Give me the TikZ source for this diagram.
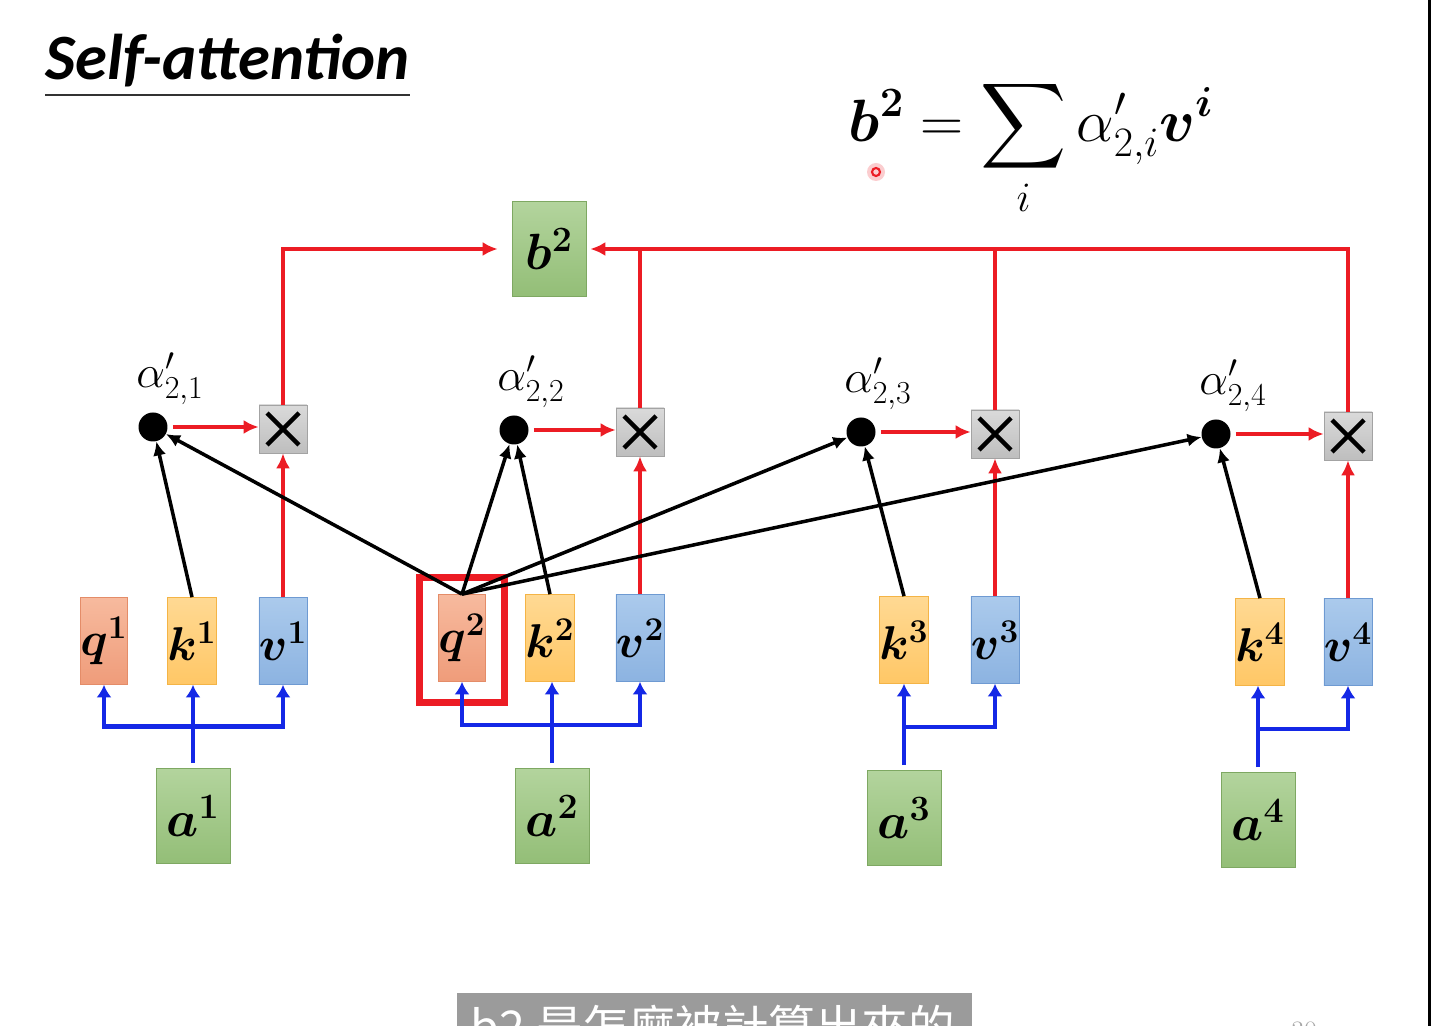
\documentclass[tikz,border=0pt]{standalone}
\usepackage{fix-cm}
\usepackage{amsmath,amssymb,bm}
\usepackage{fontspec}
\newfontfamily\slidefont{Carlito}
\newfontfamily\cjkfont{Noto Sans CJK TC}
\usepackage{xcolor}
\usetikzlibrary{arrows.meta,calc,positioning}
\definecolor{attnred}{HTML}{EC1C24}
\definecolor{attnblue}{HTML}{1428E6}
\definecolor{qtop}{HTML}{F7BA9E}
\definecolor{qbot}{HTML}{EF9C7A}
\definecolor{qline}{HTML}{E48C68}
\definecolor{ktop}{HTML}{FFD993}
\definecolor{kbot}{HTML}{FFC766}
\definecolor{kline}{HTML}{F4B446}
\definecolor{vtop}{HTML}{ABCAEC}
\definecolor{vbot}{HTML}{8CB3E1}
\definecolor{vline}{HTML}{6E9AD2}
\definecolor{gtop}{HTML}{B3D49D}
\definecolor{gbot}{HTML}{93BE77}
\definecolor{gline}{HTML}{7EA862}
\definecolor{mtop}{HTML}{DADADA}
\definecolor{mbot}{HTML}{BEBEBE}
\definecolor{mline}{HTML}{A3A3A3}
\definecolor{capgrey}{HTML}{9B9B9B}

\begin{document}
\begin{tikzpicture}[
    x=0.02cm,y=-0.02cm,
    vecbox/.style={draw,minimum width=0.94cm,minimum height=1.74cm,
      inner sep=0pt,font=\fontsize{27}{32}\selectfont},
    qbox/.style={vecbox,top color=qtop,bottom color=qbot,draw=qline},
    kbox/.style={vecbox,top color=ktop,bottom color=kbot,draw=kline},
    vbox/.style={vecbox,top color=vtop,bottom color=vbot,draw=vline},
    greenbox/.style={draw=gline,top color=gtop,bottom color=gbot,
      minimum width=1.48cm,minimum height=1.9cm,inner sep=0pt,
      font=\fontsize{29}{34}\selectfont},
    mulbox/.style={draw=mline,top color=mtop,bottom color=mbot,
      minimum size=0.96cm,inner sep=0pt,
      path picture={
        \draw[black,line width=2.5pt]
          ([shift={(-0.32cm,-0.32cm)}]path picture bounding box.center)
          -- ([shift={(0.32cm,0.32cm)}]path picture bounding box.center);
        \draw[black,line width=2.5pt]
          ([shift={(-0.32cm,0.32cm)}]path picture bounding box.center)
          -- ([shift={(0.32cm,-0.32cm)}]path picture bounding box.center);}},
    scoredot/.style={circle,fill=black,minimum size=0.58cm,inner sep=0pt},
    alphalabel/.style={font=\fontsize{26}{30}\selectfont,inner sep=0pt},
    redline/.style={attnred,line width=2.1pt},
    redarrow/.style={redline,-{Latex[length=3mm,width=2.8mm]}},
    bluearrow/.style={attnblue,line width=2.3pt,
      -{Latex[length=2.5mm,width=3mm]}},
    blackarrow/.style={black,line width=2pt,
      -{Latex[length=2.8mm,width=2.6mm]}}
  ]
    \useasboundingbox (0,0) rectangle (1431,1026);
    \clip (0,0) rectangle (1431,1026);
    \fill[white] (0,0) rectangle (1431,1026);
    \fill[black] (1428,0) rectangle (1431,1026);

    % title and formula
    \node[anchor=base west,inner sep=0pt,
      font=\slidefont\bfseries\itshape\fontsize{36.8}{40}\selectfont]
      (title) at (45,80) {Self-attention};
    \draw[line width=1.2pt,black!80] ([yshift=-0.3cm]title.base west)
      -- ([yshift=-0.3cm]title.base east);
    \node[font=\fontsize{34}{38}\selectfont] (sumeq) at (1031,148)
      {$\displaystyle \bm{b}^{\bm{2}} = \sum_{i} \alpha'_{2,i}\bm{v}^{\bm{i}}$};
    \fill[attnred!22] (876,172) circle (0.18cm);
    \draw[attnred,line width=1.2pt] (876,172) circle (0.08cm);

    % inputs and q k v
    \foreach \i/\ax/\ay in {1/193/816,2/552/816,3/904/818,4/1258/820}
      \node[greenbox] (a\i) at (\ax,\ay) {$\bm{a}^{\bm{\i}}$};
    \node[greenbox] (b2) at (549,249) {$\bm{b}^{\bm{2}}$};
    \node[qbox] (q1) at (104,641) {$\bm{q}^{\bm{1}}$};
    \node[kbox] (k1) at (192,641) {$\bm{k}^{\bm{1}}$};
    \node[vbox] (v1) at (283,641) {$\bm{v}^{\bm{1}}$};
    \node[qbox] (q2) at (462,638) {$\bm{q}^{\bm{2}}$};
    \node[kbox] (k2) at (550,638) {$\bm{k}^{\bm{2}}$};
    \node[vbox] (v2) at (640,638) {$\bm{v}^{\bm{2}}$};
    \node[kbox] (k3) at (904,640) {$\bm{k}^{\bm{3}}$};
    \node[vbox] (v3) at (995,640) {$\bm{v}^{\bm{3}}$};
    \node[kbox] (k4) at (1260,642) {$\bm{k}^{\bm{4}}$};
    \node[vbox] (v4) at (1348,642) {$\bm{v}^{\bm{4}}$};
    \node[draw=attnred,line width=4.5pt,minimum width=1.7cm,
      minimum height=2.5cm] (q2mark) at (462,640) {};

    % scores and products
    \foreach \i/\dx/\dy/\mx/\my in {1/153/427/283/429,2/514/430/640/432,
        3/861/432/995/434,4/1216/434/1348/436} {
      \node[scoredot] (d\i) at (\dx,\dy) {};
      \node[alphalabel] (l\i) at ({\dx+17},{\dy-48})
        {$\alpha'_{2,\i}$};
      \node[mulbox] (m\i) at (\mx,\my) {};
      \draw[redarrow,shorten <=0.1cm] (d\i.east) -- (d\i.east -| m\i.west);
      \draw[redarrow] (v\i.north) -- (m\i.south);
    }

    % weighted sum
    \draw[redarrow,shorten >=0.28cm] (m1.north) |- (b2.west);
    \draw[redarrow,shorten >=0.08cm] (m4.north) |- (b2.east);
    \draw[redline] (m3.north) -- (m3.north |- b2.east);
    \draw[redline] (m2.north) -- (m2.north |- b2.east);

    % a -> q k v
    \foreach \i in {1,...,4}
      \coordinate (j\i) at ($(k\i.south)!0.5!(a\i.north)$);
    \foreach \i in {1,...,4} {
      \draw[bluearrow,shorten <=0.1cm] (a\i.north) -- (a\i.north |- k\i.south);
      \draw[bluearrow] (j\i -| a\i.north) -| (v\i.south);
    }
    \foreach \i in {1,2}
      \draw[bluearrow] (j\i -| a\i.north) -| (q\i.south);

    % q2 . k
    \draw[blackarrow] (k1.north) -- (d1);
    \draw[blackarrow] (k2.north) -- (d2);
    \draw[blackarrow] (k3.north) -- (d3);
    \draw[blackarrow] (k4.north) -- (d4);
    \foreach \i in {1,...,4}
      \draw[blackarrow] (q2.north) -- (d\i);

    % subtitle bar
    \fill[capgrey] (457,993) rectangle (972,1040);
    \node[anchor=base,inner sep=0pt,white,
      font=\cjkfont\fontsize{26.5}{27}\selectfont] (caption) at (713,1045)
      {b2 是怎麼被計算出來的};
    \node[anchor=base,inner sep=0pt,black!35,
      font=\fontsize{16}{16}\selectfont] (pageno) at (1304,1040) {30};
\end{tikzpicture}
\end{document}
